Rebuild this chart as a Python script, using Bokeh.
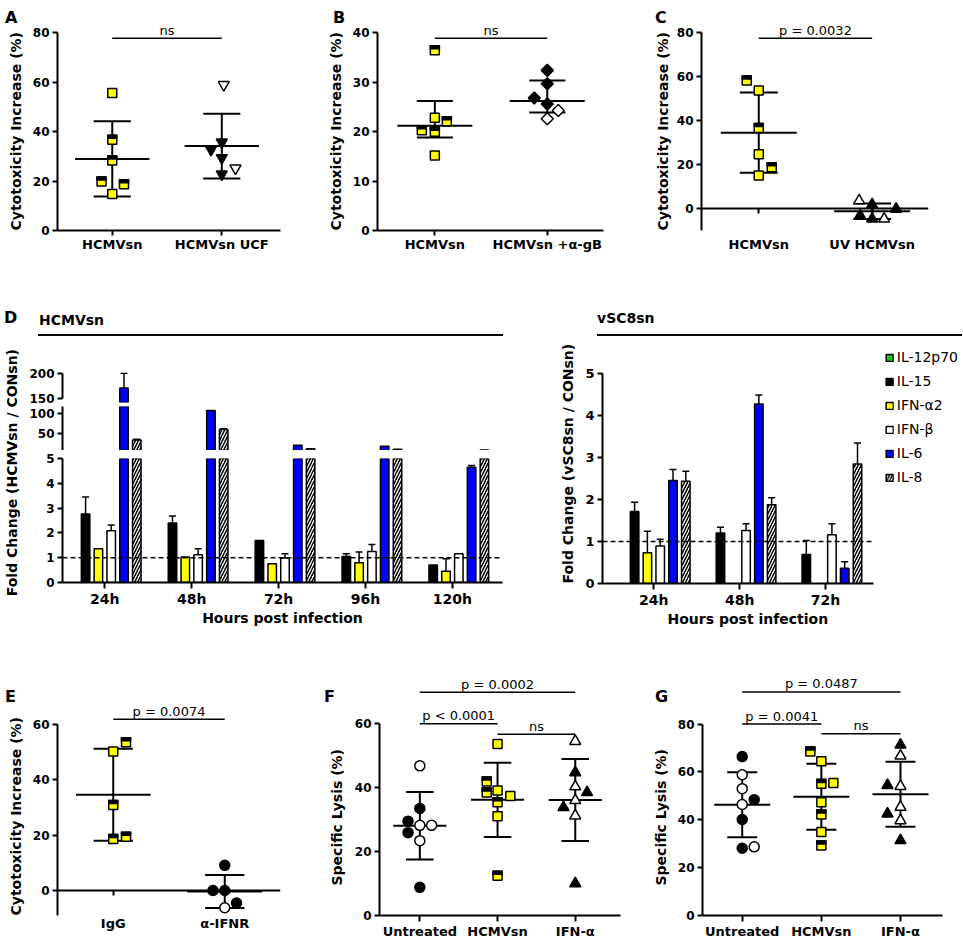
import numpy as np
from bokeh.plotting import figure
from bokeh.models import Range1d, FixedTicker, LinearAxis, Span, Legend, LegendItem, Div, Title
from bokeh.layouts import row, column
from bokeh.embed import file_html
from bokeh.resources import INLINE
from bokeh.core.properties import value

FONT = "DejaVu Sans"
nan = float("nan")

# ======================= DATA =======================
# Panel A
A_categories = ["HCMVsn", "HCMVsn UCF"]
A_hcmvsn = [55.6, 36.7, 28.3, 19.8, 18.7, 14.8]
A_hcmvsn_kind = ["Y", "H", "H", "H", "H", "Y"]
A_ucf = [59.0, 35.7, 32.8, 29.4, 25.2, 22.8]
A_ucf_kind = ["O", "F", "F", "F", "O", "F"]
A_test = ["ns"]

# Panel B
B_categories = ["HCMVsn", "HCMVsn +α-gB"]
B_hcmvsn = [36.5, 22.8, 22.1, 20.3, 20.0, 15.2]
B_hcmvsn_kind = ["H", "Y", "H", "H", "H", "Y"]
B_agb = [32.4, 29.7, 26.8, 25.6, 24.3, 22.6]
B_agb_kind = ["F", "F", "F", "F", "O", "O"]
B_test = ["ns"]

# Panel C
C_categories = ["HCMVsn", "UV HCMVsn"]
C_hcmvsn = [58.3, 53.7, 36.7, 24.7, 18.8, 15.0]
C_hcmvsn_kind = ["H", "Y", "H", "Y", "H", "Y"]
C_uv = [3.6, 1.8, -0.2, -3.2, -4.7, -4.7]
C_uv_kind = ["O", "F", "F", "F", "F", "O"]
C_test = ["p = 0.0032"]

# Panel D
D_cytokines = ["IL-12p70", "IL-15", "IFN-α2", "IFN-β", "IL-6", "IL-8"]
D_left_title = "HCMVsn"
D_left_ylabel = "Fold Change (HCMVsn / CONsn)"
D_left_hours = ["24h", "48h", "72h", "96h", "120h"]
D_left_il12 = [nan, nan, nan, nan, nan]
D_left_il15 = [2.76, 2.40, 1.69, 1.05, 0.71]
D_left_ifna2 = [1.36, 1.03, 0.76, 0.80, 0.45]
D_left_ifnb = [2.09, 1.12, 0.99, 1.25, 1.16]
D_left_il6 = [171.4, 109.0, 18.5, 16.1, 4.65]
D_left_il8 = [32.0, 59.8, 9.8, 8.2, 6.6]
D_left_il12_err = [nan, nan, nan, nan, nan]
D_left_il15_err = [0.69, 0.28, nan, 0.11, nan]
D_left_ifna2_err = [nan, nan, nan, 0.43, 0.51]
D_left_ifnb_err = [0.23, 0.24, 0.17, 0.28, nan]
D_left_il6_err = [28.6, nan, nan, nan, 0.07]
D_left_il8_err = [2.4, 1.6, nan, nan, nan]

D_right_title = "vSC8sn"
D_right_ylabel = "Fold Change (vSC8sn / CONsn)"
D_right_hours = ["24h", "48h", "72h"]
D_right_il12 = [nan, nan, nan]
D_right_il15 = [1.71, 1.20, 0.69]
D_right_ifna2 = [0.73, nan, nan]
D_right_ifnb = [0.89, 1.26, 1.16]
D_right_il6 = [2.45, 4.27, 0.36]
D_right_il8 = [2.43, 1.87, 2.84]
D_right_il12_err = [nan, nan, nan]
D_right_il15_err = [0.22, 0.14, 0.33]
D_right_ifna2_err = [0.51, nan, nan]
D_right_ifnb_err = [0.16, 0.16, 0.26]
D_right_il6_err = [0.26, 0.21, 0.16]
D_right_il8_err = [0.24, 0.17, 0.50]
D_xlabel = "Hours post infection"

# Panel E
E_categories = ["IgG", "α-IFNR"]
E_igg = [53.5, 50.2, 30.9, 18.6, 19.4]
E_igg_kind = ["H", "Y", "H", "H", "H"]
E_aifnr = [9.1, 0.0, 0.0, -4.5, -6.2]
E_aifnr_kind = ["F", "F", "F", "F", "O"]
E_test = ["p = 0.0074"]

# Panel F
F_categories = ["Untreated", "HCMVsn", "IFN-α"]
F_untreated = [46.8, 33.5, 29.5, 25.9, 28.2, 28.2, 23.4, 8.8]
F_untreated_kind = ["O", "F", "F", "F", "O", "O", "O", "F"]
F_hcmvsn = [53.6, 41.9, 38.5, 39.1, 37.4, 35.4, 31.0, 12.4]
F_hcmvsn_kind = ["Y", "H", "H", "Y", "Y", "H", "Y", "H"]
F_ifna = [54.5, 44.7, 40.3, 38.5, 36.0, 33.8, 31.2, 10.0]
F_ifna_kind = ["O", "F", "O", "F", "O", "F", "O", "F"]
F_tests = ["p = 0.0002", "p < 0.0001", "ns"]

# Panel G
G_categories = ["Untreated", "HCMVsn", "IFN-α"]
G_untreated = [66.4, 58.8, 53.0, 48.4, 46.4, 40.1, 28.1, 28.7]
G_untreated_kind = ["F", "O", "O", "F", "O", "F", "F", "O"]
G_hcmvsn = [68.5, 64.4, 55.4, 55.0, 47.3, 42.2, 34.9, 29.3]
G_hcmvsn_kind = ["H", "Y", "Y", "H", "Y", "H", "Y", "H"]
G_ifna = [71.3, 66.7, 54.4, 54.0, 45.3, 42.5, 39.7, 31.4]
G_ifna_kind = ["F", "O", "F", "O", "O", "F", "O", "F"]
G_tests = ["p = 0.0487", "p = 0.0041", "ns"]

CYTO_ylabel = "Cytotoxicity Increase (%)"
LYSIS_ylabel = "Specific Lysis (%)"
PANEL_LETTERS = ["A", "B", "C", "E", "F", "G"]

# ======================= STYLE =======================
YELLOW = "#ffff00"
BAR_COLORS = ["#1fbf1f", "#000000", "#ffff00", "#ffffff", "#0000ff", "#ffffff"]
# horizontal scatter offsets of the points (pixels)
A_dx = [[0, 0, 0, -11, 12, 0], [2, 0, -11, 0, 14, 0]]
B_dx = [[0, 0, 12, -13, 0, 0], [0, 0, -13, 0, 11, 0]]
C_dx = [[-12, 0, 0, 0, 13, 0], [-13, 0, 24, -12, 0, 12]]
E_dx = [[13, 0, 0, 0, 13], [0, -12, 0, 12, 0]]
F_dx = [[0, 0, -12, -12, 0, 12, 0, 0], [0, -11, -11, 0, 13, 0, 0, 0], [0, 0, 0, 12, 0, -12, 0, 0]]
G_dx = [[0, 0, 0, 12, 0, 0, 0, 12], [-11, 0, 12, 0, 0, 0, 0, 0], [0, 0, -13, 0, 0, -13, 0, 0]]
# page positions (px) of the panel letters (centres)
LETTER_POS = [(11, 14), (339, 14), (661, 14), (11, 693), (330, 693), (661, 693)]
TOTAL_H = 941

MARKERS = {
    "square": dict(marker="square", size=9, angle=0.0),
    "diamond": dict(marker="square", size=8.5, angle=np.pi / 4),
    "triangle": dict(marker="triangle", size=11, angle=0.0),
    "inverted_triangle": dict(marker="inverted_triangle", size=11, angle=0.0),
    "circle": dict(marker="circle", size=10, angle=0.0),
}


def style_axis(ax, tick_size="12px", label_size="14px", tick_out=5, standoff=3, label_standoff=5):
    ax.axis_line_width = 2
    ax.axis_line_color = "black"
    ax.major_tick_line_width = 2
    ax.major_tick_line_color = "black"
    ax.major_tick_out = tick_out
    ax.major_tick_in = 0
    ax.minor_tick_line_color = None
    ax.major_label_text_font = FONT
    ax.major_label_text_font_style = "bold"
    ax.major_label_text_font_size = tick_size
    ax.major_label_text_color = "black"
    ax.major_label_standoff = standoff
    ax.axis_label_text_font = FONT
    ax.axis_label_text_font_style = "bold"
    ax.axis_label_text_font_size = label_size
    ax.axis_label_text_color = "black"
    ax.axis_label_standoff = label_standoff


def side_title(text, offset, standoff, valign):
    return Title(text=text, align="left", offset=offset, vertical_align=valign, standoff=standoff,
                 text_font=FONT, text_font_size="14px", text_font_style="bold", text_color="black")


def base_fig(W, H, frame, x_range, y_range, **kw):
    fl, fr, ft, fb = frame
    p = figure(width=W, height=H, x_range=x_range, y_range=y_range,
               output_backend="svg", toolbar_location=None,
               min_border_left=fl, min_border_right=W - fr,
               min_border_top=ft, min_border_bottom=H - fb, **kw)
    p.outline_line_color = None
    p.xgrid.visible = False
    p.ygrid.visible = False
    p.border_fill_alpha = 0
    p.background_fill_alpha = 0
    return p


def dot_panel(W, H, frame, xr, yr, ybounds, yticks, cats, groups, stat, brackets,
              ylabel, ylabel_pos, zero_line=False, mean_hw=38, cap_hw=19, x_tick_out=5,
              x_standoff=1, x_minor_out=4):
    fl, fr, ft, fb = frame
    p = base_fig(W, H, frame, Range1d(*xr), Range1d(*yr))
    pxx = (fr - fl) / (xr[1] - xr[0])
    pxy = (fb - ft) / (yr[1] - yr[0])

    for gi, (vals, kinds, mname, dxs) in enumerate(groups):
        xc = gi + 1
        v = np.asarray(vals, float)
        if stat == "mean":
            mid = v.mean()
            sd = v.std(ddof=1)
            lo, hi = mid - sd, mid + sd
        else:
            lo, mid, hi = np.percentile(v, [25, 50, 75], method="weibull")
        hw = mean_hw / pxx
        cw = cap_hw / pxx
        p.segment(x0=[xc - hw, xc, xc - cw, xc - cw], y0=[mid, lo, lo, hi],
                  x1=[xc + hw, xc, xc + cw, xc + cw], y1=[mid, hi, lo, hi],
                  line_color="black", line_width=2)
        xs = xc + np.asarray(dxs, float) / pxx
        mk = MARKERS[mname]
        if mname == "square":
            p.scatter(x=xs, y=v, marker="square", size=mk["size"], fill_color=YELLOW,
                      line_color="black", line_width=1.5)
            hmask = np.array([k == "H" for k in kinds])
            if hmask.any():
                p.rect(x=xs[hmask], y=v[hmask] + 3.0 / pxy, width=10.5, height=4.5,
                       width_units="screen", height_units="screen",
                       fill_color="black", line_color=None)
        else:
            fills = ["black" if k == "F" else "white" for k in kinds]
            p.scatter(x=xs, y=v, marker=mk["marker"], size=mk["size"], angle=mk["angle"],
                      fill_color=fills, line_color="black", line_width=1.5)

    for (i, j, yb, txt) in brackets:
        p.segment(x0=[i], y0=[yb], x1=[j], y1=[yb], line_color="black", line_width=1.5)
        p.text(x=[(i + j) / 2], y=[yb], text=[txt], text_align="center",
               text_baseline="alphabetic", y_offset=-8, text_font=value(FONT),
               text_font_size="13px", text_color="black")

    yax = p.yaxis[0]
    yax.ticker = FixedTicker(ticks=yticks)
    yax.bounds = ybounds
    style_axis(yax, tick_size="12px", label_size="14px", tick_out=5, standoff=3)
    off, st = ylabel_pos
    p.add_layout(side_title(ylabel, off, st, "bottom"), "left")

    xax = p.xaxis[0]
    ticks = list(range(1, len(cats) + 1))
    xax.ticker = FixedTicker(ticks=ticks)
    xax.major_label_overrides = {i + 1: c for i, c in enumerate(cats)}
    style_axis(xax, tick_size="13px", tick_out=x_tick_out, standoff=x_standoff)
    xax.minor_tick_out = x_minor_out
    if zero_line:
        xax.axis_line_color = None
        xax.major_tick_line_color = None
        xax.major_tick_out = 0
        # axis line drawn at y = 0, ticks hanging below it
        zax = LinearAxis(fixed_location=0, ticker=FixedTicker(ticks=ticks),
                         major_label_overrides={t: "" for t in ticks})
        style_axis(zax, tick_out=0, standoff=0)
        zax.major_tick_in = 5
        zax.major_label_text_font_size = "1px"
        p.add_layout(zax, "above")
    return p


def bar_fig(W, H, frame, x_range, yr, series, errors, yticks, ybounds, xcats=None,
            group_px=None, tick_size="13px"):
    fl, fr, ft, fb = frame
    ng = len(series[0])
    p = base_fig(W, H, frame, x_range, Range1d(*yr),
                 x_axis_location=("below" if xcats else None))
    pxx = group_px if group_px else (fr - fl) / (x_range.end - x_range.start)
    slot = 12.8 / pxx
    bw = 8.5 / pxx
    cap = 3.5 / pxx
    rends = []
    for k, (vals, errs) in enumerate(zip(series, errors)):
        xs = np.arange(1, ng + 1) + (k - 2.5) * slot
        v = np.asarray(vals, float)
        shown = np.where(v > yr[0], v, nan)      # bars that reach this axis segment
        kw = dict(fill_color=BAR_COLORS[k], line_color="black", line_width=1.5)
        if k == 5:
            kw.update(hatch_pattern="/", hatch_color="black", hatch_weight=1.5, hatch_scale=6)
        r = p.vbar(x=xs, top=shown, bottom=0, width=bw, **kw)
        rends.append(r)
        e = np.asarray(errs, float)
        ok = np.isfinite(e) & np.isfinite(v) & (v + np.nan_to_num(e) > yr[0])
        if ok.any():
            t = v[ok] + e[ok]
            xo = xs[ok]
            p.segment(x0=xo, y0=v[ok], x1=xo, y1=t, line_color="black", line_width=1.5)
            p.segment(x0=xo - cap, y0=t, x1=xo + cap, y1=t, line_color="black", line_width=1.5)
    yax = p.yaxis[0]
    yax.ticker = FixedTicker(ticks=yticks)
    yax.bounds = ybounds
    style_axis(yax, tick_size=tick_size, tick_out=5, standoff=3)
    if xcats:
        xax = p.xaxis[0]
        xax.ticker = FixedTicker(ticks=list(range(1, ng + 1)))
        xax.major_label_overrides = {i + 1: c for i, c in enumerate(xcats)}
        style_axis(xax, tick_size="14px", label_size="14px", tick_out=6, standoff=2,
                   label_standoff=0)
    return p, rends


# ======================= ROW 1 =======================
H1 = 300
pA = dot_panel(320, H1, (52, 280, 18, 230), (0.5, 2.536), (0, 85.8), (0, 80), [0, 20, 40, 60, 80],
               A_categories,
               [(A_hcmvsn, A_hcmvsn_kind, "square", A_dx[0]),
                (A_ucf, A_ucf_kind, "inverted_triangle", A_dx[1])],
               "mean", [(1, 2, 77.8, A_test[0])], CYTO_ylabel, (0, 11))
pB = dot_panel(320, H1, (57, 283, 18, 230), (0.49, 2.5), (0, 42.9), (0, 40), [0, 10, 20, 30, 40],
               B_categories,
               [(B_hcmvsn, B_hcmvsn_kind, "square", B_dx[0]),
                (B_agb, B_agb_kind, "diamond", B_dx[1])],
               "median", [(1, 2, 38.9, B_test[0])], CYTO_ylabel, (0, 11),
               mean_hw=37.5, cap_hw=18)
pC = dot_panel(322, H1, (61, 288, 18, 230), (0.495, 2.497), (-10.0, 86.5), (-10, 80),
               [0, 20, 40, 60, 80], C_categories,
               [(C_hcmvsn, C_hcmvsn_kind, "square", C_dx[0]),
                (C_uv, C_uv_kind, "triangle", C_dx[1])],
               "mean", [(1, 2, 77.5, C_test[0])], CYTO_ylabel, (0, 6),
               zero_line=True, x_tick_out=0, x_standoff=6)

# ======================= ROW 2 (D) =======================
left_series = [D_left_il12, D_left_il15, D_left_ifna2, D_left_ifnb, D_left_il6, D_left_il8]
left_errors = [D_left_il12_err, D_left_il15_err, D_left_ifna2_err, D_left_ifnb_err,
               D_left_il6_err, D_left_il8_err]
xrL = Range1d(0.5132, 5.5765)
WL = 496
pDt, _ = bar_fig(WL, 54, (38, 478, 20, 50), xrL, (143.2, 201.36), left_series, left_errors,
                 [150, 200], (150, 200), tick_size="12px")
pDm, _ = bar_fig(WL, 44, (38, 478, 0, 44), xrL, (5, 119.5), left_series, left_errors,
                 [50, 100], (5, 119.5), tick_size="12px")
pDb, _ = bar_fig(WL, 178, (38, 478, 8, 135), xrL, (0, 5.0), left_series, left_errors,
                 [0, 1, 2, 3, 4, 5], (0, 5), xcats=D_left_hours, tick_size="12px")
pDb.xaxis[0].axis_label = D_xlabel
pDb.add_layout(Span(location=1, dimension="width", line_color="black",
                    line_width=1.5, line_dash="5 3"))

hdrL = Div(text=(
    '<div style="position:relative;width:520px;height:52px;font-family:\'DejaVu Sans\',sans-serif;color:#000;">'
    '<div style="position:absolute;left:4px;top:9px;font-size:16px;font-weight:bold;line-height:18px;">D</div>'
    f'<div style="position:absolute;left:39px;top:11px;font-size:14px;font-weight:bold;line-height:18px;">{D_left_title}</div>'
    '<div style="position:absolute;left:38px;top:34px;width:465px;height:0;border-top:2px solid #000;"></div>'
    '</div>'), width=520, height=52, margin=0)
ylabL = Div(text=(
    '<div style="width:24px;height:242px;display:flex;align-items:center;justify-content:center;">'
    '<span style="writing-mode:vertical-rl;transform:rotate(180deg);white-space:nowrap;'
    f'font-family:\'DejaVu Sans\',sans-serif;font-weight:bold;font-size:14px;color:#000;">{D_left_ylabel}</span>'
    '</div>'), width=24, height=276, margin=0)

right_series = [D_right_il12, D_right_il15, D_right_ifna2, D_right_ifnb, D_right_il6, D_right_il8]
right_errors = [D_right_il12_err, D_right_il15_err, D_right_ifna2_err, D_right_ifnb_err,
                D_right_il6_err, D_right_il8_err]
WR = 442
GROUP_PX_R = 85.85
xr_start, xr_axis_end = 0.4024, 3.559
xrR = Range1d(xr_start, xr_axis_end + (WR - 353) / GROUP_PX_R)
pDR, rendsR = bar_fig(WR, 284, (82, WR, 1, 241), xrR, (0, 5.66),
                      right_series, right_errors, [0, 1, 2, 3, 4, 5], (0, 5),
                      xcats=D_right_hours, group_px=GROUP_PX_R)
pDR.xaxis[0].bounds = (xr_start, xr_axis_end)
pDR.segment(x0=[xr_start], y0=[1], x1=[xr_axis_end], y1=[1], line_color="black",
            line_width=1.5, line_dash="5 3")
pDR.add_layout(side_title(D_right_ylabel, 0, 14, "bottom"), "left")
pDR.add_layout(side_title(D_xlabel, 65, 0, "top"), "below")
legend = Legend(items=[LegendItem(label=c, renderers=[r]) for c, r in zip(D_cytokines, rendsR)],
                location="top_right", label_text_font=FONT, label_text_font_size="14px",
                label_text_color="black", glyph_width=9, glyph_height=9, label_standoff=3,
                label_height=16, spacing=8, padding=0, margin=4, border_line_color=None,
                background_fill_alpha=0)
pDR.add_layout(legend)

hdrR = Div(text=(
    f'<div style="position:relative;width:{WR}px;height:44px;font-family:\'DejaVu Sans\',sans-serif;color:#000;">'
    f'<div style="position:absolute;left:77px;top:9px;font-size:14px;font-weight:bold;line-height:18px;">{D_right_title}</div>'
    f'<div style="position:absolute;left:77px;top:34px;width:{WR - 77}px;height:0;border-top:2px solid #000;"></div>'
    '</div>'), width=WR, height=44, margin=0)

rowD = row(column(hdrL, row(ylabL, column(pDt, pDm, pDb))), column(hdrR, pDR))

# ======================= ROW 3 =======================
H3 = 313
pE = dot_panel(320, H3, (53, 280, 37, 291), (0.5, 2.5), (-9.0, 81.18), (-9.0, 60), [0, 20, 40, 60],
               E_categories,
               [(E_igg, E_igg_kind, "square", E_dx[0]),
                (E_aifnr, E_aifnr_kind, "circle", E_dx[1])],
               "mean", [(1, 2, 61.8, E_test[0])], CYTO_ylabel, (0, 11),
               zero_line=True, mean_hw=38, cap_hw=20, x_tick_out=0, x_standoff=0,
               x_minor_out=0)
pF = dot_panel(320, H3, (55, 300, 37, 289), (0.481, 3.582), (0, 78.18), (0, 60), [0, 20, 40, 60],
               F_categories,
               [(F_untreated, F_untreated_kind, "circle", F_dx[0]),
                (F_hcmvsn, F_hcmvsn_kind, "square", F_dx[1]),
                (F_ifna, F_ifna_kind, "triangle", F_dx[2])],
               "mean", [(1, 3, 69.8, F_tests[0]), (1, 2, 60.0, F_tests[1]), (2, 3, 56.7, F_tests[2])],
               LYSIS_ylabel, (30, 13), mean_hw=27, cap_hw=14, x_tick_out=6, x_standoff=2)
pG = dot_panel(322, H3, (62, 302, 37, 289), (0.498, 3.531), (0, 104.46), (0, 80), [0, 20, 40, 60, 80],
               G_categories,
               [(G_untreated, G_untreated_kind, "circle", G_dx[0]),
                (G_hcmvsn, G_hcmvsn_kind, "square", G_dx[1]),
                (G_ifna, G_ifna_kind, "triangle", G_dx[2])],
               "mean", [(1, 3, 93.4, G_tests[0]), (1, 2, 80.0, G_tests[1]), (2, 3, 75.9, G_tests[2])],
               LYSIS_ylabel, (30, 12), mean_hw=28, cap_hw=15, x_tick_out=6, x_standoff=2)

# ======================= panel letters (overlay) =======================
spans = "".join(
    f'<span style="position:absolute;left:{x - 6}px;top:{y - 17 - TOTAL_H}px;'
    f'font-family:\'DejaVu Sans\',sans-serif;font-weight:bold;font-size:16px;line-height:18px;'
    f'color:#000;">{t}</span>'
    for t, (x, y) in zip(PANEL_LETTERS, LETTER_POS))
overlay = Div(text=f'<div style="position:relative;width:962px;height:0;overflow:visible;">{spans}</div>',
              width=962, height=0, margin=0,
              styles={"overflow": "visible", "z-index": "10", "position": "relative"},
              stylesheets=[":host{overflow:visible !important;z-index:10;} "
                           "div{overflow:visible !important;}"])

layout = column(row(pA, pB, pC), rowD, row(pE, pF, pG), overlay)

open("out.html", "w").write(file_html(layout, INLINE))
